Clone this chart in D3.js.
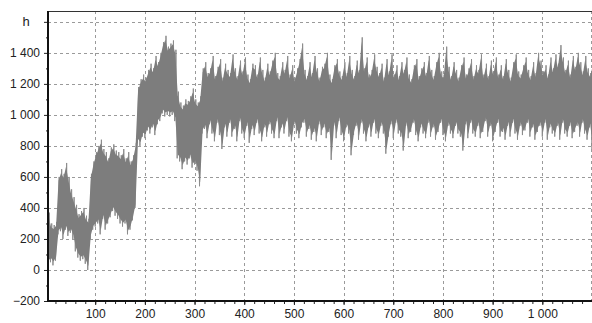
<!DOCTYPE html>
<html>
<head>
<meta charset="utf-8">
<script src="https://cdn.jsdelivr.net/npm/d3@7"></script>
<style>
  body { margin: 0; background: #fff; }
  svg { display: block; font-family: "Liberation Sans", Arial, sans-serif; }
</style>
</head>
<body>
<figure id="chart" style="margin:0"></figure>
<script>
// sample positions (every 5 units) and the min / max of the signal around each one
const xs = d3.range(5, 1101, 5);

const hi = [
  370, 300, 290, 310, 600, 650, 620, 690, 600, 520,
  470, 420, 360, 380, 400, 350, 330, 620, 700, 760,
  800, 840, 780, 760, 720, 790, 810, 770, 760, 740,
  780, 720, 760, 700, 740, 820, 1180, 1230, 1260, 1240,
  1290, 1330, 1300, 1380, 1340, 1400, 1470, 1510, 1440, 1460,
  1480, 1420, 1150, 1080, 1060, 1100, 1090, 1120, 1170, 1100,
  1080, 1120, 1300,
  1340, 1270, 1300, 1380, 1250, 1310, 1360, 1240, 1330, 1290,
  1270, 1390, 1300, 1250, 1350, 1280, 1370, 1260, 1230, 1330,
  1320, 1260, 1370, 1290, 1240, 1330, 1280, 1350, 1400, 1270,
  1250, 1340, 1290, 1380, 1260, 1320, 1240, 1300, 1360, 1460,
  1290, 1250, 1340, 1270, 1380, 1300, 1240, 1310, 1330, 1400,
  1260, 1230, 1320, 1360, 1280, 1250, 1340, 1270, 1380, 1290,
  1250, 1350, 1290, 1500, 1300, 1370, 1260, 1290, 1390, 1310,
  1270, 1330, 1240, 1360, 1280, 1390, 1260, 1320, 1250, 1340,
  1290, 1370, 1260, 1230, 1320, 1360, 1250, 1300, 1340, 1270,
  1380, 1290, 1250, 1340, 1400, 1280, 1260, 1440, 1310, 1250,
  1340, 1290, 1240, 1320, 1370, 1260, 1300, 1360, 1250, 1320,
  1290, 1390, 1260, 1330, 1250, 1350, 1280, 1370, 1260, 1320,
  1250, 1360, 1290, 1240, 1340, 1390, 1280, 1260, 1320, 1370,
  1290, 1250, 1340, 1270, 1400, 1350, 1280, 1320, 1260, 1370,
  1300, 1390, 1330, 1450, 1370, 1290, 1350, 1260, 1380, 1310,
  1400, 1340, 1280, 1380, 1300, 1270, 1340
];

const lo = [
  40, 50, 30, 60, 230, 250, 200, 260, 220, 240,
  200, 120, 80, 60, 70, 40, 0, 200, 260, 280,
  300, 230, 330, 260, 300, 340, 380, 350, 330, 300,
  280, 300, 230, 260, 320, 400, 820, 800, 860, 850,
  900, 880, 920, 870, 940, 960, 1010, 990, 1000, 990,
  1000, 960, 720, 700, 650, 700, 680, 720, 660, 680,
  640, 540, 880,
  910, 850, 940, 880, 830, 950, 870, 780, 920, 860,
  950, 860, 910, 830, 960, 880, 850, 930, 820, 910,
  870, 950, 880, 830, 920, 860, 940, 880, 850, 960,
  850, 920, 880, 960, 860, 830, 940, 880, 850, 920,
  950, 860, 910, 840, 890, 830, 940, 870, 920, 850,
  890, 710, 930, 850, 960, 870, 830, 920, 880, 740,
  870, 930, 840, 950, 880, 830, 920, 860, 950, 880,
  850, 930, 880, 750, 860, 940, 850, 950, 880, 860,
  770, 930, 850, 890, 950, 870, 830, 920, 880, 850,
  950, 860, 920, 840, 890, 950, 870, 830, 930, 880,
  850, 930, 880, 860, 770, 940, 850, 950, 880, 860,
  930, 850, 890, 960, 860, 930, 830, 890, 950, 860,
  890, 840, 930, 860, 950, 880, 840, 930, 870, 900,
  950, 860, 920, 840, 890, 930, 860, 950, 840, 920,
  880, 860, 930, 840, 950, 880, 860, 930, 850, 890,
  930, 860, 950, 880, 840, 920, 780
];

const xTicks = [100, 200, 300, 400, 500, 600, 700, 800, 900, 1000];
const yTicks = [-200, 0, 200, 400, 600, 800, 1000, 1200, 1400];
const yUnit = "h";

const width = 592, height = 323;
const m = { left: 48, right: 592, top: 11, bottom: 301 };

const svg = d3.select("figure#chart")
  .append("svg")
  .attr("width", width)
  .attr("height", height);

const x = d3.scaleLinear().domain([5, 1100]).range([m.left, m.right]);
const y = d3.scaleLinear().domain([-200, 1670]).range([m.bottom, m.top]);

const fmt = d3.formatLocale({ decimal: ".", thousands: " ", grouping: [3], currency: ["", ""] }).format(",d");

// grid
const grid = svg.append("g")
  .attr("stroke", "#9a9a9a")
  .attr("stroke-width", 1)
  .attr("stroke-dasharray", "3,3");

grid.selectAll("line.h")
  .data(yTicks.slice(1).concat([1600]))
  .enter().append("line")
  .attr("x1", m.left).attr("x2", m.right)
  .attr("y1", d => Math.round(y(d)) + 0.5)
  .attr("y2", d => Math.round(y(d)) + 0.5);

grid.selectAll("line.v")
  .data(xTicks.concat([1100]))
  .enter().append("line")
  .attr("y1", m.top).attr("y2", m.bottom)
  .attr("x1", d => Math.min(Math.round(x(d)) + 0.5, m.right - 0.5))
  .attr("x2", d => Math.min(Math.round(x(d)) + 0.5, m.right - 0.5));

// signal
svg.append("clipPath").attr("id", "plot")
  .append("rect")
  .attr("x", m.left).attr("y", m.top)
  .attr("width", m.right - m.left).attr("height", m.bottom - m.top);

const plot = svg.append("g").attr("clip-path", "url(#plot)");

// the trace, swinging between min and max (lighter fringe)
const pts = [];
xs.forEach((v, i) => {
  pts.push([x(v), y(lo[i])]);
  pts.push([x(v + 2.5), y(hi[i])]);
});

plot.append("path")
  .attr("d", d3.line()(pts))
  .attr("fill", "none")
  .attr("stroke", "#8c8c8c")
  .attr("stroke-width", 1);

// solid core of the band
const band = d3.area()
  .x((d, i) => x(xs[i] + 1.25))
  .y0((d, i) => y(lo[i] + 25))
  .y1((d, i) => y(hi[i] - 25));

plot.append("path")
  .attr("d", band(xs))
  .attr("fill", "#7d7d7d");

// axes
svg.append("g")
  .attr("transform", "translate(0," + m.bottom + ")")
  .call(d3.axisBottom(x).tickValues(xTicks).tickFormat(fmt).tickSize(4).tickPadding(4));

svg.append("g")
  .attr("transform", "translate(0," + m.bottom + ")")
  .call(d3.axisBottom(x).tickValues(d3.range(20, 1100, 20)).tickFormat("").tickSize(3));

svg.append("g")
  .attr("transform", "translate(" + m.left + ",0)")
  .call(d3.axisLeft(y).tickValues(yTicks.concat([1600])).tickFormat(d => d === 1600 ? "" : fmt(d)).tickSize(4).tickPadding(4));

svg.append("g")
  .attr("transform", "translate(" + m.left + ",0)")
  .call(d3.axisLeft(y).tickValues(d3.range(-100, 1700, 200)).tickFormat("").tickSize(2));

svg.selectAll(".domain").remove();
svg.selectAll(".tick line").attr("stroke", "#222");
svg.selectAll(".tick text")
  .attr("fill", "#222")
  .style("font-size", "12px")
  .style("font-family", "'Liberation Sans', Arial, sans-serif");

svg.append("text")
  .attr("x", 26).attr("y", y(1600))
  .attr("dy", "0.32em")
  .attr("text-anchor", "middle")
  .attr("fill", "#222")
  .style("font-size", "13px")
  .text(yUnit);

// frame
svg.append("line")
  .attr("x1", m.left).attr("x2", m.right)
  .attr("y1", m.top + 0.5).attr("y2", m.top + 0.5)
  .attr("stroke", "#333").attr("stroke-width", 1);

svg.append("line")
  .attr("x1", m.left).attr("x2", m.left)
  .attr("y1", m.top).attr("y2", m.bottom + 1)
  .attr("stroke", "#111").attr("stroke-width", 2);

svg.append("line")
  .attr("x1", m.left - 1).attr("x2", m.right)
  .attr("y1", m.bottom).attr("y2", m.bottom)
  .attr("stroke", "#111").attr("stroke-width", 2);
</script>
</body>
</html>
